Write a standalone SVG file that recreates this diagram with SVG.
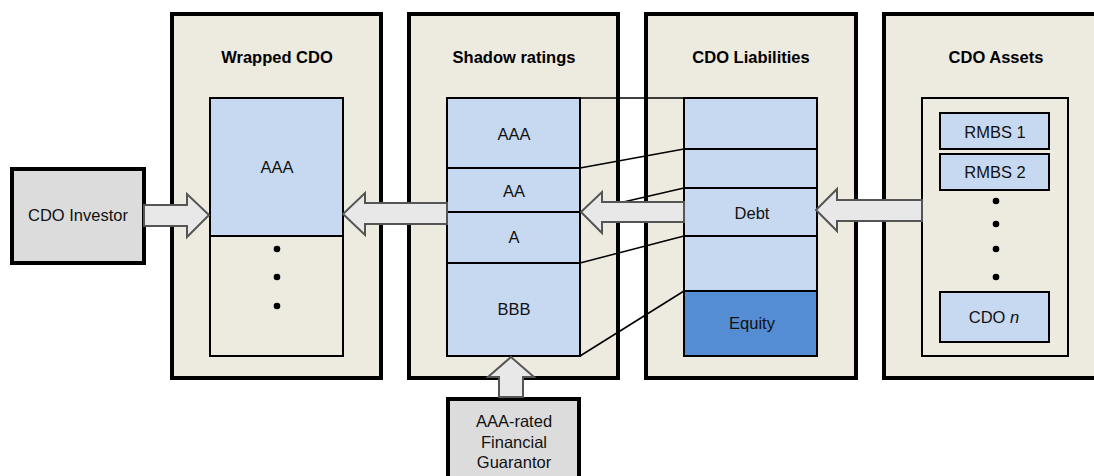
<svg xmlns="http://www.w3.org/2000/svg" width="1094" height="476" viewBox="0 0 1094 476">
<style>
.panel{fill:#edeae0;stroke:#000;stroke-width:4}
.inner{fill:#edeae0;stroke:#000;stroke-width:2}
.tr{fill:#c6d9f0;stroke:#000;stroke-width:2}
.eq{fill:#548dd4;stroke:#000;stroke-width:2}
.gray{fill:#dcdcdc;stroke:#000;stroke-width:4}
.arrow{fill:#e8e8e8;stroke:#555;stroke-width:2;stroke-linejoin:miter}
.ln{stroke:#000;stroke-width:1.5;fill:none}
.title{font-family:"Liberation Sans",Arial,sans-serif;font-size:16.5px;font-weight:bold;text-anchor:middle;fill:#000}
.lbl{font-family:"Liberation Sans",Arial,sans-serif;font-size:16.5px;text-anchor:middle;fill:#111}
.dot{fill:#000}
</style>
<rect width="1094" height="476" fill="#fff"/>

<g id="panel-wrapped">
<rect class="panel" x="172" y="14" width="209" height="364"/>
<text class="title" x="277" y="63">Wrapped CDO</text>
<rect class="inner" x="210" y="98" width="133" height="258"/>
<rect class="tr" x="210" y="98" width="133" height="138"/>
<text class="lbl" x="277" y="173">AAA</text>
<circle class="dot" cx="277" cy="249" r="3.3"/>
<circle class="dot" cx="277" cy="277" r="3.3"/>
<circle class="dot" cx="277" cy="306" r="3.3"/>
</g>

<g id="panel-shadow">
<rect class="panel" x="409" y="14" width="209" height="364"/>
<text class="title" x="514" y="63">Shadow ratings</text>
<rect class="tr" x="447" y="98" width="133" height="70"/>
<rect class="tr" x="447" y="168" width="133" height="44"/>
<rect class="tr" x="447" y="212" width="133" height="51"/>
<rect class="tr" x="447" y="263" width="133" height="93"/>
<text class="lbl" x="514" y="140">AAA</text>
<text class="lbl" x="514" y="197">AA</text>
<text class="lbl" x="514" y="243">A</text>
<text class="lbl" x="514" y="315">BBB</text>
</g>

<g id="panel-liabilities">
<rect class="panel" x="646" y="14" width="210" height="364"/>
<text class="title" x="751" y="63">CDO Liabilities</text>
<rect class="tr" x="684" y="98" width="133" height="51"/>
<rect class="tr" x="684" y="149" width="133" height="39"/>
<rect class="tr" x="684" y="188" width="133" height="48"/>
<rect class="tr" x="684" y="236" width="133" height="55"/>
<rect class="eq" x="684" y="291" width="133" height="65"/>
<text class="lbl" x="752" y="219">Debt</text>
<text class="lbl" x="752" y="329">Equity</text>
</g>

<g id="panel-assets">
<rect class="panel" x="884" y="14" width="220" height="364"/>
<text class="title" x="996" y="63">CDO Assets</text>
<rect class="inner" x="922" y="98" width="146" height="258"/>
<rect class="tr" x="940" y="113" width="109" height="36"/>
<text class="lbl" x="995" y="138">RMBS 1</text>
<rect class="tr" x="940" y="154" width="109" height="36"/>
<text class="lbl" x="995" y="178">RMBS 2</text>
<circle class="dot" cx="996" cy="201" r="3.3"/>
<circle class="dot" cx="996" cy="224" r="3.3"/>
<circle class="dot" cx="996" cy="249" r="3.3"/>
<circle class="dot" cx="996" cy="277" r="3.3"/>
<rect class="tr" x="940" y="292" width="109" height="50"/>
<text class="lbl" x="994" y="323">CDO <tspan font-style="italic">n</tspan></text>
</g>

<g id="node-investor">
<rect class="gray" x="12" y="169" width="132" height="94"/>
<text class="lbl" x="78" y="221">CDO Investor</text>
</g>

<g id="node-guarantor">
<rect class="gray" x="448" y="399" width="131" height="90"/>
<text class="lbl" x="514" y="427">AAA-rated</text>
<text class="lbl" x="514" y="448">Financial</text>
<text class="lbl" x="514" y="468">Guarantor</text>
</g>

<g id="connectors">
<line class="ln" x1="447" y1="98" x2="684" y2="98"/>
<line class="ln" x1="580" y1="168" x2="684" y2="149"/>
<line class="ln" x1="580" y1="212" x2="684" y2="188"/>
<line class="ln" x1="580" y1="263" x2="684" y2="236"/>
<line class="ln" x1="580" y1="356" x2="684" y2="291"/>
<path class="arrow" d="M144,205 H187 V194 L209,215 L187,237 V226 H144 Z"/>
<path class="arrow" d="M447,203 H365 V193 L343,214 L365,235 V224 H447 Z"/>
<path class="arrow" d="M684,202 H602 V192 L581,212 L602,233 V222 H684 Z"/>
<path class="arrow" d="M922,200 H837 V189 L816,210 L837,231 V221 H922 Z"/>
<path class="arrow" d="M499,397 V377 H488 L511,357 L534,377 H523 V397 Z"/>
</g>
</svg>
